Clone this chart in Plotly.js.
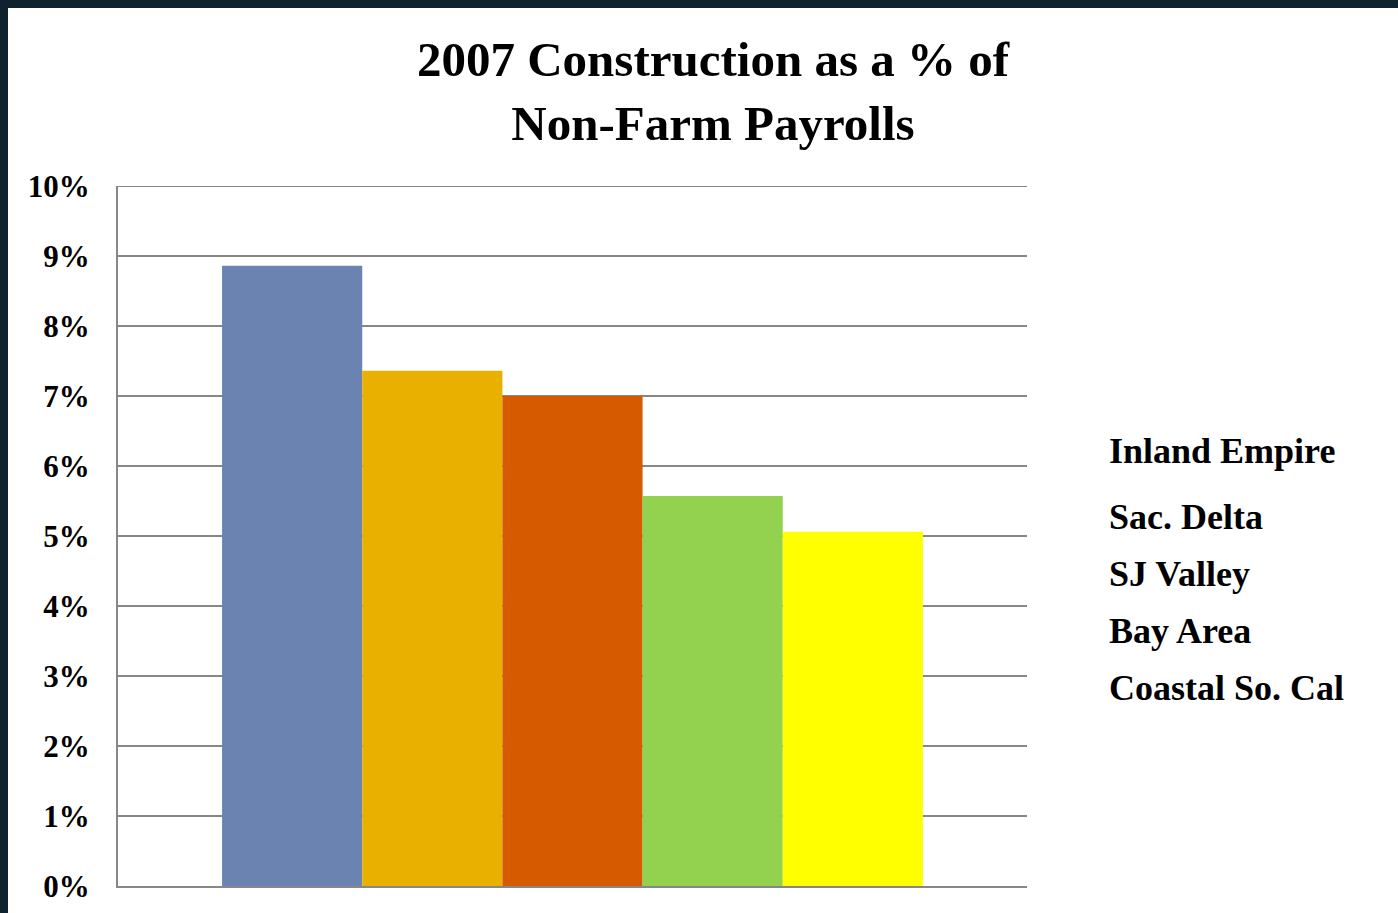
<!DOCTYPE html>
<html>
<head>
<meta charset="utf-8">
<script src="https://cdn.plot.ly/plotly-3.0.1.min.js"></script>
<style>
  html, body { margin: 0; padding: 0; background: #10222e; width: 1398px; height: 913px; overflow: hidden; }
  #chart { position: absolute; left: 8px; top: 8px; width: 1390px; height: 905px; background: #ffffff; }
</style>
</head>
<body>
<div id="chart"></div>
<script>
// ---- data ----
const category = ['2007'];
const regions = ['Inland Empire', 'Sac. Delta', 'SJ Valley', 'Bay Area', 'Coastal So. Cal'];
const constructionShare = [8.86, 7.36, 7.00, 5.57, 5.06];
const yTickValues = [0, 1, 2, 3, 4, 5, 6, 7, 8, 9, 10];
const yTickLabels = ['0%', '1%', '2%', '3%', '4%', '5%', '6%', '7%', '8%', '9%', '10%'];

// ---- styles ----
const colors = ['#6b83b1', '#eab000', '#d55a00', '#93d24f', '#ffff00'];
const FONT = '"Liberation Serif", "Times New Roman", Times, serif';
const legendLabelY = [0.621, 0.527, 0.446, 0.364, 0.283]; // paper positions of legend labels
const yMax = yTickValues[yTickValues.length - 1];

const traces = regions.map((name, i) => ({
  type: 'bar',
  name: name,
  x: category,
  y: [constructionShare[i]],
  marker: { color: colors[i], line: { width: 0 } },
  hoverinfo: 'name+y'
}));

const annotations = regions.map((name, i) => ({
  text: '<b>' + name + '</b>',
  xref: 'paper', yref: 'paper',
  x: 1.088, y: legendLabelY[i],
  xanchor: 'left', yanchor: 'middle',
  showarrow: false,
  font: { family: FONT, size: 36, color: '#000000' }
}));

const layout = {
  width: 1390,
  height: 905,
  paper_bgcolor: '#ffffff',
  plot_bgcolor: '#ffffff',
  margin: { l: 110, r: 371, t: 178, b: 27, pad: 0 },
  showlegend: false,
  barmode: 'group',
  bargap: 0.229,
  bargroupgap: 0,
  title: {
    text: '<b>2007 Construction as a % of<br>Non-Farm Payrolls</b>',
    font: { family: FONT, size: 49, color: '#000000' },
    x: 705 / 1390, xanchor: 'center', xref: 'container',
    y: 1 - 68 / 905, yanchor: 'top', yref: 'container'
  },
  xaxis: {
    type: 'category',
    showticklabels: false,
    showgrid: false,
    zeroline: false,
    showline: true,
    linecolor: '#878787',
    linewidth: 2,
    ticks: ''
  },
  yaxis: {
    range: [0, yMax],
    tickvals: yTickValues,
    ticktext: yTickLabels,
    showgrid: true,
    gridcolor: '#878787',
    gridwidth: 2,
    zeroline: false,
    showline: true,
    linecolor: '#878787',
    linewidth: 2,
    ticks: '',
    ticklabelstandoff: 20,
    tickfont: { family: FONT, size: 31, color: '#000000', weight: 'bold' }
  },
  shapes: [{
    type: 'line', xref: 'paper', yref: 'y',
    x0: 0, x1: 1, y0: yMax, y1: yMax,
    line: { color: '#878787', width: 2 }, layer: 'below'
  }],
  annotations: annotations,
  font: { family: FONT, color: '#000000' }
};

Plotly.newPlot('chart', traces, layout, { displayModeBar: false, staticPlot: true });
</script>
</body>
</html>
